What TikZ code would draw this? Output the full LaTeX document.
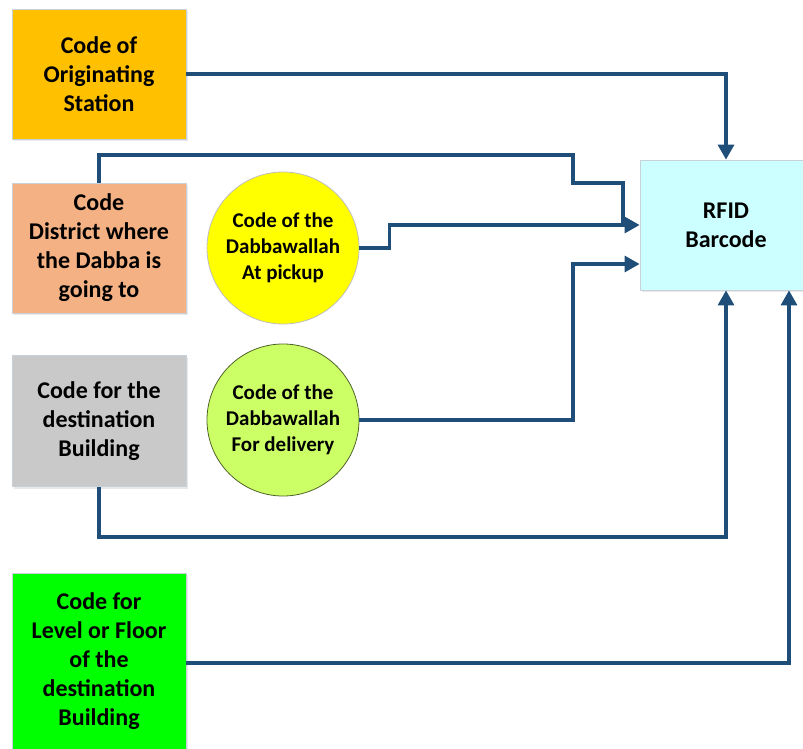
\documentclass[tikz,border=0pt]{standalone}
\usepackage{fontspec}
\setmainfont{Carlito}
\usetikzlibrary{arrows.meta,shadows}
\definecolor{cOrange}{HTML}{FFC000}
\definecolor{cSalmon}{HTML}{F4B183}
\definecolor{cGray}{HTML}{C9C9C9}
\definecolor{cGreen}{HTML}{00FF00}
\definecolor{cCyan}{HTML}{CCFFFF}
\definecolor{cYellow}{HTML}{FFFF00}
\definecolor{cLime}{HTML}{CCFF66}
\definecolor{cLine}{HTML}{1F4E79}
\definecolor{cBorder}{HTML}{C8D0D8}
\begin{document}
\begin{tikzpicture}[x=1pt,y=-1pt,
  box/.style={draw=cBorder,line width=0.8pt,minimum width=174pt,minimum height=130pt,
    align=center,inner sep=2pt,font=\fontsize{24}{29}\selectfont\bfseries,
    drop shadow={opacity=0.18,shadow xshift=1.5pt,shadow yshift=-2pt}},
  circ/.style={circle,draw=#1,line width=0.8pt,minimum size=152pt,inner sep=0pt,align=center,
    font=\fontsize{21}{26}\selectfont\bfseries},
  conn/.style={draw=cLine,line width=3.2pt},
  arr/.style={conn,-{Triangle[width=16pt,length=15pt]}}]
\useasboundingbox (0,0) rectangle (803,749);
\node[box,fill=cOrange] (orange) at (99,74) {Code of\\Originating\\Station};
\node[box,fill=cSalmon] (salmon) at (99,248) {Code\\District where\\the Dabba is\\going to};
\node[box,fill=cGray,minimum height=131pt] (gray) at (99,421) {Code for the\\destination\\Building};
\node[box,fill=cGreen,minimum height=176pt] (green) at (99,661) {Code for\\Level or Floor\\of the\\destination\\Building};
\node[box,fill=cCyan,minimum width=172pt] (rfid) at (726,225) {RFID\\Barcode};
\node[circ=black!25,fill=cYellow] (yellow) at (283,248) {Code of the\\Dabbawallah\\At pickup};
\node[circ=black!45!cLime!70!black,fill=cLime] (lime) at (283,420) {Code of the\\Dabbawallah\\For delivery};
\coordinate (s1) at (573,155);
\coordinate (s2) at (573,183);
\coordinate (s3) at (623,226);
\draw[arr] (orange.east) -| (rfid.north);
\draw[conn] (salmon.north) |- (s1) -- (s2) -| (s3);
\draw[arr] (yellow.east) -- ++(30,0) |- (rfid.west);
\draw[arr] (lime.east) -- (573,420) |- ([yshift=-39pt]rfid.west);
\draw[arr] (gray.south) -- ++(0,50) -| (rfid.south);
\draw[arr] ([yshift=-2pt]green.east) -| ([xshift=63pt]rfid.south);
\end{tikzpicture}
\end{document}
